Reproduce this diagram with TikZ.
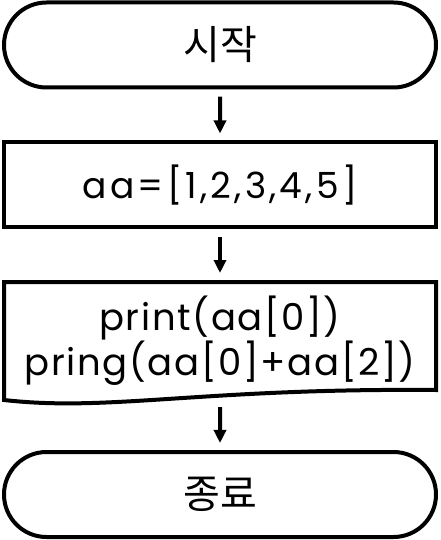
\documentclass[tikz,border=0pt]{standalone}
\usepackage{fontspec}
\setmainfont{Poppins}
\newfontfamily\hangul{Noto Sans CJK KR}
\newfontfamily\codigoLista{Poppins}[LetterSpace=9]
\newfontfamily\codigoSalida{Poppins}[LetterSpace=4.5]
\usepackage{tikz}
\usetikzlibrary{arrows.meta, positioning, shapes.misc, calc}
\colorlet{colLinea}{black}
\tikzset{
  cajaBase/.style={
    draw=colLinea, line width=4pt, inner sep=0pt,
    minimum width=432pt, align=center, text=colLinea
  },
  cajaTerminal/.style={cajaBase, rounded rectangle, minimum height=85pt,
    font=\hangul\fontsize{40}{48}\selectfont},
  cajaProceso/.style={cajaBase, rectangle, minimum height=84.5pt,
    font=\codigoLista\fontsize{36}{40}\selectfont},
  cajaDocumento/.style={cajaBase, rectangle, draw=none, minimum height=118pt,
    font=\codigoSalida\fontsize{37}{41}\selectfont},
  bordeDocumento/.style={line width=4pt, colLinea},
  flecha/.style={-{Triangle[length=13pt, width=12pt]}, line width=4pt, colLinea},
}

\begin{document}
\begin{tikzpicture}
    \useasboundingbox (0,0) rectangle (440pt,-540pt);
    \node[cajaTerminal] (inicio) at (220pt,-45pt) {시작};
    \node[cajaProceso, below=51pt of inicio] (lista) {aa=[1,2,3,4,5]};
    \node[cajaDocumento, below=51pt of lista] (salida) {print(aa[0])\\pring(aa[0]+aa[2])};
    \node[cajaTerminal, below=48pt of salida] (fin) {종료};
    \draw[bordeDocumento] ($(salida.center)+(-216pt,59pt)$) -- ($(salida.center)+(216pt,59pt)$)
      -- ($(salida.center)+(216pt,-49pt)$)
      .. controls ($(salida.center)+(-20pt,-47pt)$) and ($(salida.center)+(-110pt,-71pt)$)
      .. ($(salida.center)+(-216pt,-59pt)$) -- cycle;
    \draw[flecha, shorten <=7pt, shorten >=7pt] (inicio) -- (lista);
    \draw[flecha, shorten <=8pt, shorten >=7pt] (lista) -- (salida);
    \draw[flecha, shorten <=5pt, shorten >=7pt] (salida) -- (fin);
  \end{tikzpicture}
\end{document}
